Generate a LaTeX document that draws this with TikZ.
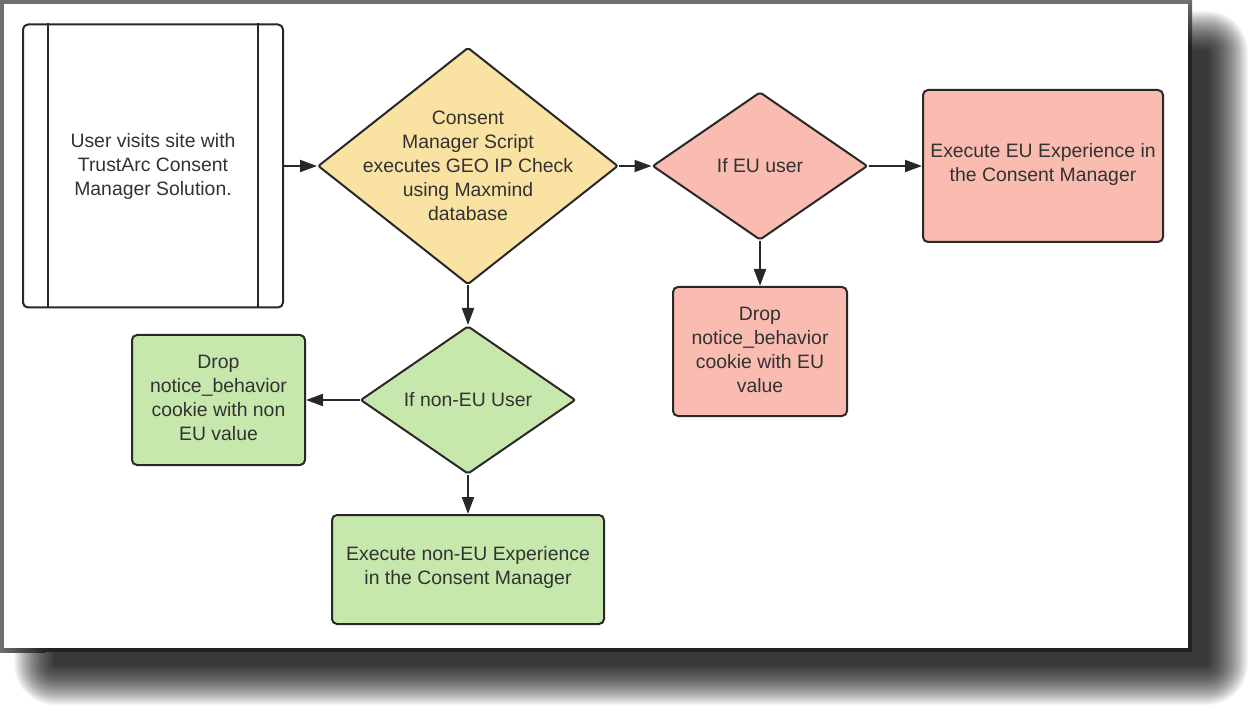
\documentclass[tikz,border=0pt]{standalone}
\usepackage{fontspec}
\setmainfont{Liberation Sans}
\usetikzlibrary{shapes.geometric,arrows.meta,calc}
\definecolor{cyel}{RGB}{250,226,162}
\definecolor{cpink}{RGB}{250,187,177}
\definecolor{cgreen}{RGB}{199,232,172}
\definecolor{cline}{RGB}{40,40,40}
\definecolor{ctext}{RGB}{50,50,50}
\definecolor{cframe}{RGB}{112,112,112}
\definecolor{cframedark}{RGB}{34,34,34}
\begin{document}
\begin{tikzpicture}[x=1pt,y=-1pt,
  every node/.style={font=\fontsize{19.4}{24}\selectfont, text=ctext, align=center},
  box/.style={draw=cline, line width=2pt, rounded corners=5pt, inner sep=0pt},
  dia/.style={shape=diamond, draw=cline, line width=2pt, inner sep=0pt, rounded corners=2pt},
  arr/.style={draw=cline, line width=2pt, -{Triangle[length=17pt,width=12pt]}},
  txt/.style={inner sep=0pt}
]
\useasboundingbox (0,0) rectangle (1254,714);
\fill[white] (0,0) rectangle (1254,714);
% drop shadow of the frame
\foreach \k in {0,...,41}{
  \pgfmathsetmacro\e{21-\k}
  \pgfmathsetmacro\r{max(2,\e+20)}
  \fill[black, opacity=0.03, rounded corners=\r pt] (35-\e,32-\e) rectangle (1227+\e,684+\e);
}
% frame
\fill[cframe] (0,0) rectangle (1192,652);
\shade[top color=cframe, bottom color=cframedark] (1188,0) rectangle (1192,45);
\fill[cframedark] (1188,45) rectangle (1192,652);
\shade[left color=cframe, right color=cframedark] (0,648) rectangle (45,652);
\fill[cframedark] (45,648) rectangle (1192,652);
\fill[white] (4,4) rectangle (1188,648);

% nodes
\node[box, fill=white, minimum width=260pt, minimum height=283pt] (u) at (153,166) {};
\draw[cline, line width=2pt] ($(u.north west)+(26,0)$) -- ($(u.south west)+(26,0)$);
\draw[cline, line width=2pt] ($(u.north east)+(-26,0)$) -- ($(u.south east)+(-26,0)$);
\node[txt] (ut) at (u.center) {User visits site with\\TrustArc Consent\\Manager Solution.};

\node[dia, fill=cyel, minimum width=300pt, minimum height=237pt] (d1) at (468,166) {};
\node[txt] (d1t) at (d1.center) {Consent\\Manager Script\\executes GEO IP Check\\using Maxmind\\database};

\node[dia, fill=cpink, minimum width=215pt, minimum height=148pt] (d2) at (760,166) {};
\node[txt] (d2t) at (d2.center) {If EU user};

\node[box, fill=cpink, minimum width=240pt, minimum height=152pt] (eu) at (1043,166) {};
\node[txt] (eut) at ($(eu.center)+(0,-2)$) {Execute EU Experience in\\the Consent Manager};

\node[box, fill=cpink, minimum width=174pt, minimum height=129pt] (dropeu) at (760,351.5) {};
\node[txt] (dropeut) at ($(dropeu.center)+(0,-2)$) {Drop\\notice\_behavior\\cookie with EU\\value};

\node[dia, fill=cgreen, minimum width=215pt, minimum height=148pt] (d3) at (468,400) {};
\node[txt] (d3t) at (d3.center) {If non-EU User};

\node[box, fill=cgreen, minimum width=173pt, minimum height=130pt] (dropnon) at (218.5,400) {};
\node[txt] (dropnont) at ($(dropnon.center)+(0,-2)$) {Drop\\notice\_behavior\\cookie with non\\EU value};

\node[box, fill=cgreen, minimum width=272pt, minimum height=109pt] (execnon) at (468,569.5) {};
\node[txt] (execnont) at ($(execnon.center)+(0,-2)$) {Execute non-EU Experience\\in the Consent Manager};

% connectors
\draw[arr] (u.east) -- (d1.west);
\draw[arr] (d1.east) -- (d2.west);
\draw[arr] (d2.east) -- (eu.west);
\draw[arr] (d2.south) -- (dropeu.north);
\draw[arr] (d1.south) -- (d3.north);
\draw[arr] (d3.west) -- (dropnon.east);
\draw[arr] (d3.south) -- (execnon.north);
\end{tikzpicture}
\end{document}
